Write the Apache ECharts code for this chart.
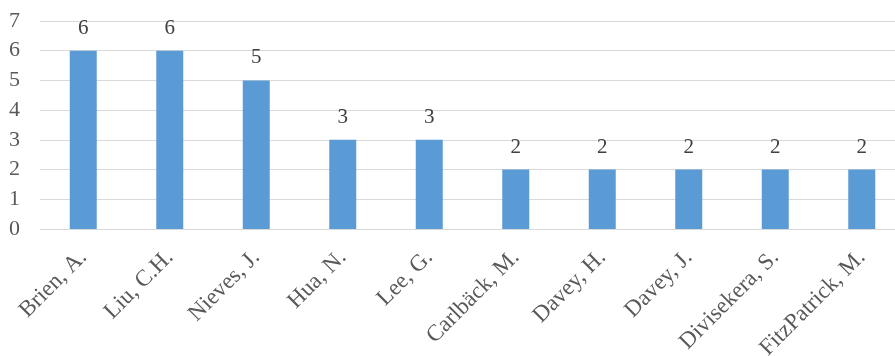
<!DOCTYPE html>
<html>
<head>
<meta charset="utf-8">
<script src="https://cdn.jsdelivr.net/npm/echarts@6/dist/echarts.min.js"></script>
<style>
  html, body { margin: 0; padding: 0; background: #fff; }
  #chart { width: 895px; height: 356px; }
</style>
</head>
<body>
<div id="chart"></div>
<script>
var authors = ['Brien, A.', 'Liu, C.H.', 'Nieves, J.', 'Hua, N.', 'Lee, G.',
    'Carlbäck, M.', 'Davey, H.', 'Davey, J.', 'Divisekera, S.', 'FitzPatrick, M.'];
var counts = [6, 6, 5, 3, 3, 2, 2, 2, 2, 2];
var yMax = 7;

var myChart = echarts.init(document.getElementById('chart'));
myChart.setOption({
    animation: false,
    textStyle: { fontFamily: 'Liberation Serif' },
    grid: {
        left: 40, right: -10, top: 21, bottom: 127,
        containLabel: false,
        outerBoundsMode: 'none'
    },
    xAxis: {
        type: 'category',
        data: authors,
        axisLine: { lineStyle: { color: '#d9d9d9', width: 1 } },
        axisTick: { show: false },
        axisLabel: {
            rotate: 45,
            margin: 25,
            color: '#595959',
            fontSize: 23,
            fontFamily: 'Liberation Serif'
        }
    },
    yAxis: {
        type: 'value',
        min: 0,
        max: yMax,
        interval: 1,
        axisLine: { show: false },
        axisTick: { show: false },
        splitLine: { lineStyle: { color: '#d9d9d9', width: 1 } },
        axisLabel: {
            color: '#595959',
            fontSize: 22,
            margin: 20,
            fontFamily: 'Liberation Serif'
        }
    },
    series: [{
        type: 'bar',
        data: counts,
        barWidth: 27,
        itemStyle: { color: '#5b9bd5' },
        label: {
            show: true,
            position: 'top',
            distance: 12,
            color: '#404040',
            fontSize: 21,
            fontFamily: 'Liberation Serif'
        }
    }]
});
</script>
</body>
</html>
